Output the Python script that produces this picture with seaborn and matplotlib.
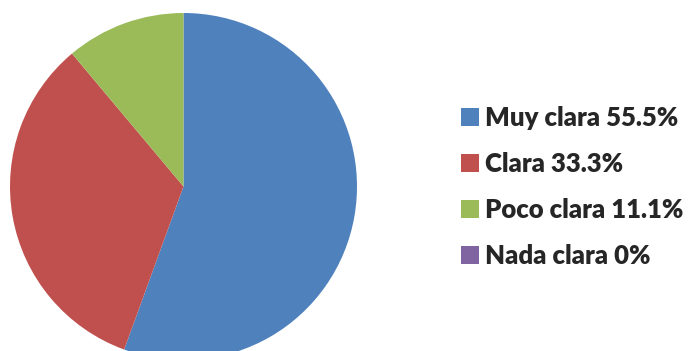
import matplotlib
matplotlib.use("Agg")
import matplotlib.pyplot as plt
import seaborn as sns

categories = ["Muy clara", "Clara", "Poco clara", "Nada clara"]
values = [55.5, 33.3, 11.1, 0.0]
value_labels = ["55.5%", "33.3%", "11.1%", "0%"]
colors = ["#4F81BD", "#C0504D", "#9BBB59", "#8064A2"]

sns.set_theme(style="white")
plt.rcParams["font.family"] = ["Lato", "DejaVu Sans"]

fig = plt.figure(figsize=(6.94, 3.51), dpi=100)
W, H = 694, 351
# pie occupies a square region that runs past the bottom edge
ax = fig.add_axes([10 / W, (H - 360) / H, 347 / W, 347 / H])
wedges, _ = ax.pie(values, colors=colors, startangle=90, counterclock=False,
                   radius=1.0, wedgeprops=dict(linewidth=0))
ax.set_xlim(-1, 1)
ax.set_ylim(-1, 1)
ax.set_aspect("equal")
ax.axis("off")

labels = [f"{c} {v}" for c, v in zip(categories, value_labels)]
leg = fig.legend(wedges, labels, loc="center left",
                 bbox_to_anchor=(461 / W, 1 - 187 / H),
                 frameon=False, prop=dict(weight="heavy", size=18.5),
                 handlelength=0.70, handleheight=0.68, handletextpad=0.24,
                 labelspacing=0.86, borderpad=0, borderaxespad=0)

fig.savefig("out.png", dpi=100)
